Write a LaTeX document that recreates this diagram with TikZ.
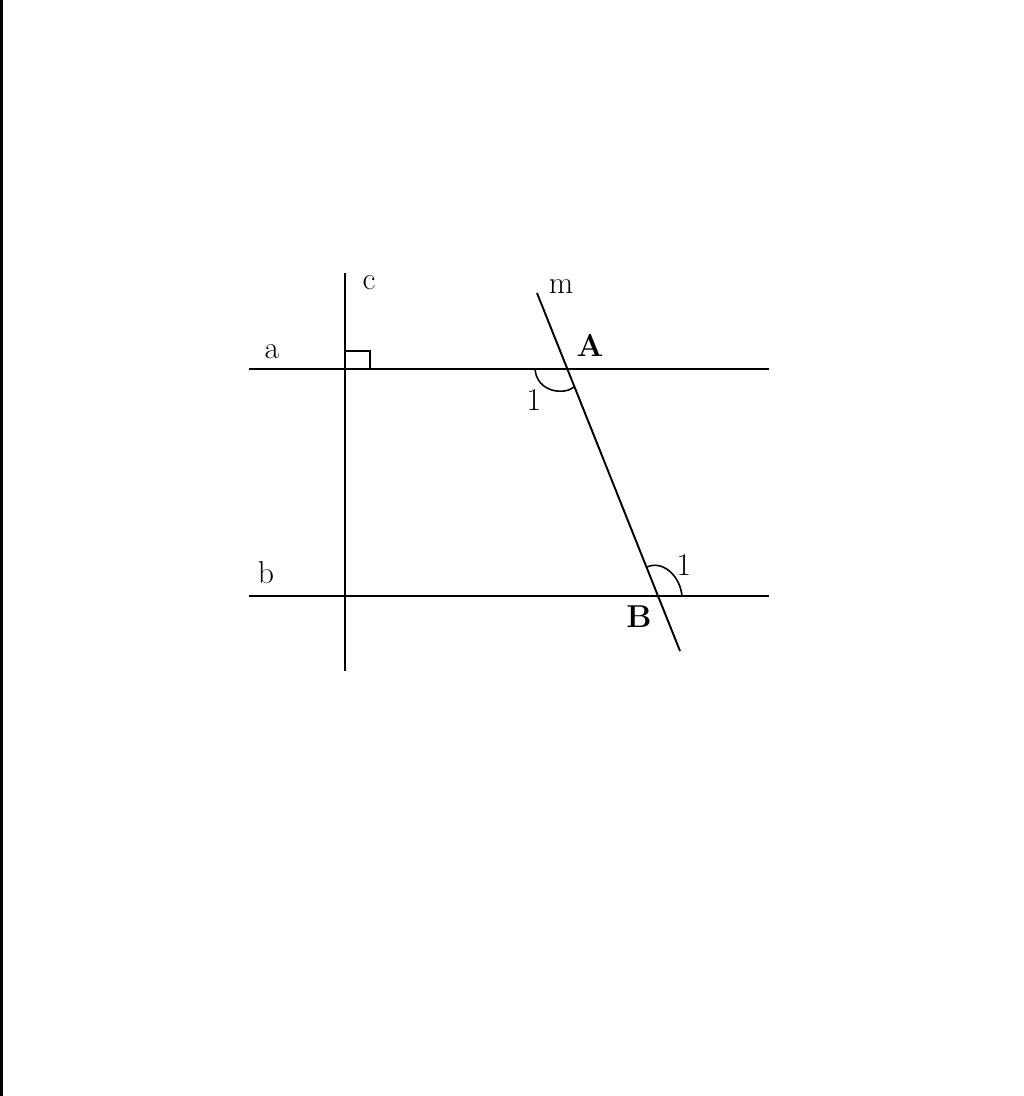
\documentclass[tikz,border=0pt]{standalone}
\usepackage{tikz}
\usepackage{amsmath,amssymb}
\usetikzlibrary{calc}

\begin{document}
\begin{tikzpicture}[x=0.02cm, y=0.02cm]
            \tikzstyle{every node}+=[inner sep=0pt]
            \tikzstyle{geoline}=[black, line width=1.1pt]
            \tikzstyle{lbl}=[font=\fontsize{18}{22}\selectfont]
            \tikzstyle{ptlbl}=[font=\fontsize{18}{22}\selectfont\bfseries]
            \useasboundingbox (0,0) rectangle (1024,-1096);
            \fill [black] (0,0) rectangle (3,-1096);
            % ends of the lines
            \coordinate (a1) at (249,-369);
            \coordinate (a2) at (769,-369);
            \coordinate (b1) at (249,-596);
            \coordinate (b2) at (769,-596);
            \coordinate (c1) at (345,-273);
            \coordinate (c2) at (345,-671);
            \coordinate (m1) at (537,-293);
            \coordinate (m2) at (680,-651);
            \coordinate (C) at (345,-369);
            \coordinate (A) at ($(m1)!0.2123!(m2)$);
            \coordinate (B) at ($(m1)!0.8464!(m2)$);
            \draw [geoline] (a1) -- (a2);
            \draw [geoline] (b1) -- (b2);
            \draw [geoline] (c1) -- (c2);
            \draw [geoline] (m1) -- (m2);
            % right angle
            \draw [black, line width=0.9pt] (C) ++(0,18) -- ++(25,0) -- ++(0,-18);
            % angles 1
            \draw [black, line width=0.9pt] (535,-369) .. controls (537,-393) and (565,-395) .. (574,-387);
            \draw [black, line width=0.9pt] (647,-567) .. controls (662,-560) and (680,-575) .. (682,-596);
            % labels
            \node [lbl] (la) at (272,-352) {a};
            \node [lbl] (lb) at (266,-573) {b};
            \node [lbl] (lc) at (369,-283) {c};
            \node [lbl] (lm) at (561,-287) {m};
            \node [ptlbl] (lA) at (590,-345) {A};
            \node [ptlbl] (lB) at (639,-617) {B};
            \node [lbl] (l1A) at (534,-400) {1};
            \node [lbl] (l1B) at (684,-565) {1};
\end{tikzpicture}
\end{document}
